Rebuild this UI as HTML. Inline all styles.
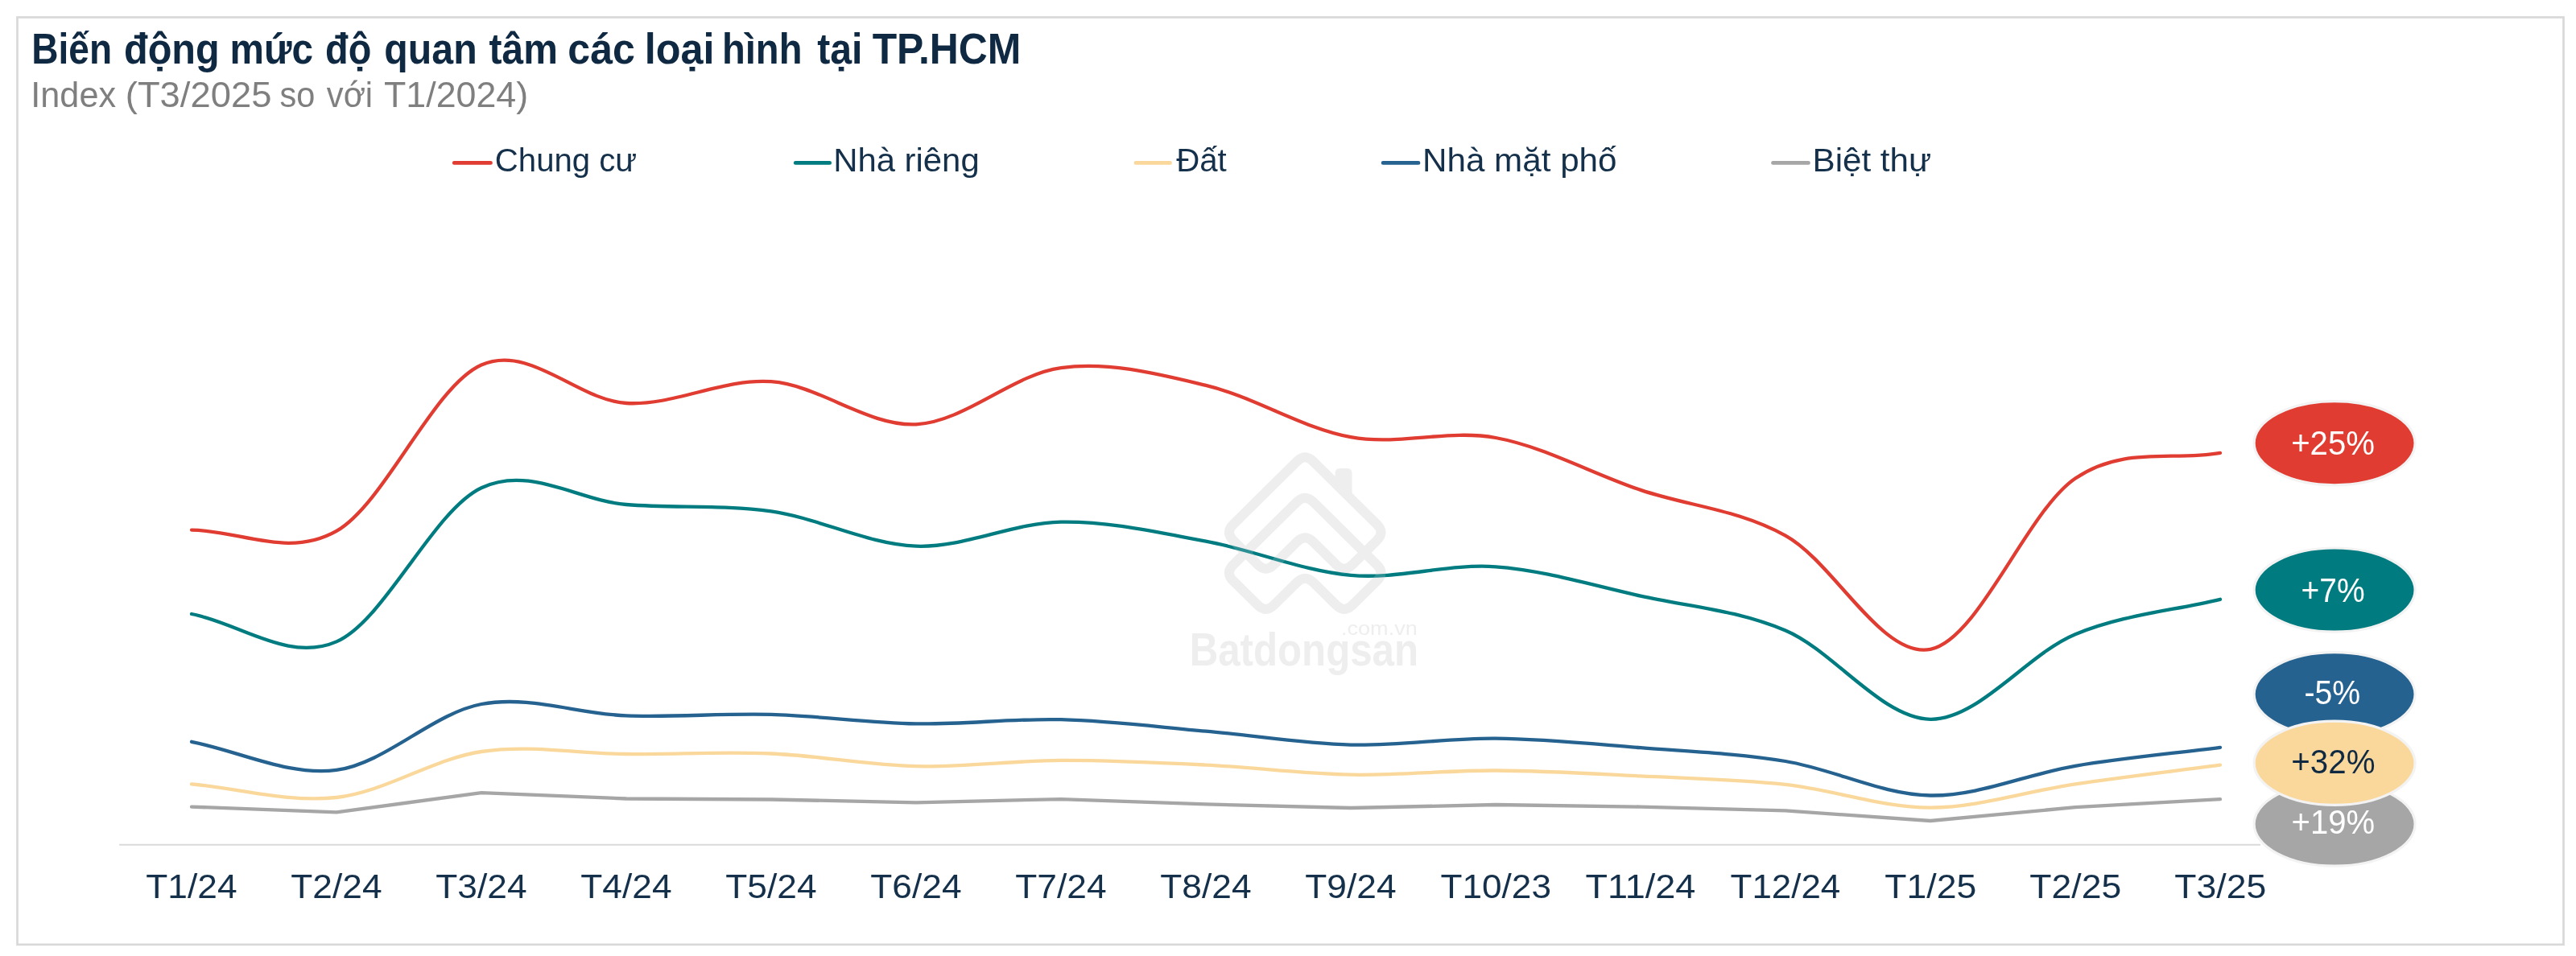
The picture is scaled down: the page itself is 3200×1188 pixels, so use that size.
<!DOCTYPE html>
<html lang="vi"><head><meta charset="utf-8">
<title>Biến động mức độ quan tâm các loại hình tại TP.HCM</title>
<style>
html,body{margin:0;padding:0;background:#fff;}
body{width:3200px;height:1188px;overflow:hidden;}
svg{display:block;font-family:"Liberation Sans",Arial,Helvetica,sans-serif;will-change:transform;}
text{white-space:pre;}
</style></head><body>
<svg width="3200" height="1188" viewBox="0 0 3200 1188" role="img" aria-label="Biến động mức độ quan tâm các loại hình tại TP.HCM">
<rect x="0" y="0" width="3200" height="1188" fill="#ffffff"/>
<rect x="21.5" y="21.5" width="3163" height="1152.3" fill="none" stroke="#d9d9d9" stroke-width="2.7"/>
<g id="title">
<text x="39.22" y="78.50" font-size="53.80" font-weight="700" fill="#0f2942" textLength="99.84" lengthAdjust="spacingAndGlyphs">Biến</text>
<text x="154.01" y="78.50" font-size="53.80" font-weight="700" fill="#0f2942" textLength="118.74" lengthAdjust="spacingAndGlyphs">động</text>
<text x="285.55" y="78.50" font-size="53.80" font-weight="700" fill="#0f2942" textLength="103.54" lengthAdjust="spacingAndGlyphs">mức</text>
<text x="404.08" y="78.50" font-size="53.80" font-weight="700" fill="#0f2942" textLength="57.25" lengthAdjust="spacingAndGlyphs">độ</text>
<text x="477.32" y="78.50" font-size="53.80" font-weight="700" fill="#0f2942" textLength="115.38" lengthAdjust="spacingAndGlyphs">quan</text>
<text x="607.61" y="78.50" font-size="53.80" font-weight="700" fill="#0f2942" textLength="85.36" lengthAdjust="spacingAndGlyphs">tâm</text>
<text x="705.34" y="78.50" font-size="53.80" font-weight="700" fill="#0f2942" textLength="83.63" lengthAdjust="spacingAndGlyphs">các</text>
<text x="800.78" y="78.50" font-size="53.80" font-weight="700" fill="#0f2942" textLength="86.78" lengthAdjust="spacingAndGlyphs">loại</text>
<text x="897.01" y="78.50" font-size="53.80" font-weight="700" fill="#0f2942" textLength="99.41" lengthAdjust="spacingAndGlyphs">hình</text>
<text x="1015.21" y="78.50" font-size="53.80" font-weight="700" fill="#0f2942" textLength="56.20" lengthAdjust="spacingAndGlyphs">tại</text>
<text x="1083.66" y="78.50" font-size="53.80" font-weight="700" fill="#0f2942" textLength="184.77" lengthAdjust="spacingAndGlyphs">TP.HCM</text>
</g>
<g id="subtitle">
<text x="38.31" y="132.50" font-size="44.90" fill="#7f7f7f" textLength="105.75" lengthAdjust="spacingAndGlyphs">Index</text>
<text x="155.79" y="132.50" font-size="44.90" fill="#7f7f7f" textLength="181.62" lengthAdjust="spacingAndGlyphs">(T3/2025</text>
<text x="347.55" y="132.50" font-size="44.90" fill="#7f7f7f" textLength="43.80" lengthAdjust="spacingAndGlyphs">so</text>
<text x="405.86" y="132.50" font-size="44.90" fill="#7f7f7f" textLength="57.24" lengthAdjust="spacingAndGlyphs">với</text>
<text x="477.00" y="132.50" font-size="44.90" fill="#7f7f7f" textLength="179.08" lengthAdjust="spacingAndGlyphs">T1/2024)</text>
</g>
<g id="legend">
<line x1="564.2" y1="202.4" x2="609.5" y2="202.4" stroke="#e03c31" stroke-width="4.7" stroke-linecap="round"/>
<text x="614.86" y="212.60" font-size="40.00" fill="#14304a" textLength="176.37" lengthAdjust="spacingAndGlyphs">Chung cư</text>
<line x1="988.2" y1="202.4" x2="1030.7" y2="202.4" stroke="#007c80" stroke-width="4.7" stroke-linecap="round"/>
<text x="1035.17" y="212.60" font-size="40.00" fill="#14304a" textLength="181.53" lengthAdjust="spacingAndGlyphs">Nhà riêng</text>
<line x1="1411.0" y1="202.4" x2="1453.5" y2="202.4" stroke="#fad89b" stroke-width="4.7" stroke-linecap="round"/>
<text x="1461.23" y="212.60" font-size="40.00" fill="#14304a" textLength="62.57" lengthAdjust="spacingAndGlyphs">Đất</text>
<line x1="1718.1" y1="202.4" x2="1762.0" y2="202.4" stroke="#25628f" stroke-width="4.7" stroke-linecap="round"/>
<text x="1767.04" y="212.60" font-size="40.00" fill="#14304a" textLength="241.50" lengthAdjust="spacingAndGlyphs">Nhà mặt phố</text>
<line x1="2202.5" y1="202.4" x2="2246.5" y2="202.4" stroke="#a6a6a6" stroke-width="4.7" stroke-linecap="round"/>
<text x="2251.55" y="212.60" font-size="40.00" fill="#14304a" textLength="147.55" lengthAdjust="spacingAndGlyphs">Biệt thự</text>
</g>
<g id="watermark">
<path d="M1611.25 573.25 Q1621.20 563.40 1631.15 573.25 L1710.53 651.75 Q1720.48 661.60 1710.53 671.45 L1679.88 701.75 Q1669.93 711.60 1659.98 701.75 L1631.15 673.25 Q1621.20 663.40 1611.25 673.25 L1582.42 701.75 Q1572.47 711.60 1562.52 701.75 L1531.87 671.45 Q1521.92 661.60 1531.87 651.75 Z" fill="none" stroke="#eeeeee" stroke-width="12" stroke-linejoin="round"/>
<path d="M1611.25 623.55 Q1621.20 613.70 1631.15 623.55 L1710.53 702.05 Q1720.48 711.90 1710.53 721.75 L1679.88 752.05 Q1669.93 761.90 1659.98 752.05 L1631.15 723.55 Q1621.20 713.70 1611.25 723.55 L1582.42 752.05 Q1572.47 761.90 1562.52 752.05 L1531.87 721.75 Q1521.92 711.90 1531.87 702.05 Z" fill="none" stroke="#eeeeee" stroke-width="12" stroke-linejoin="round"/>
<path d="M1658.5 600 L1658.5 588 Q1658.5 582 1664.5 582 L1673.5 582 Q1679.5 582 1679.5 588 L1679.5 621 Z" fill="#eeeeee"/>
<text x="1477.71" y="827.00" font-size="58.00" font-weight="700" fill="#eeeeee" textLength="284.34" lengthAdjust="spacingAndGlyphs">Batdongsan</text>
<text x="1666.03" y="789.00" font-size="24.50" fill="#eeeeee" textLength="94.73" lengthAdjust="spacingAndGlyphs">.com.vn</text>
</g>
<line x1="148.2" y1="1049.8" x2="2808" y2="1049.8" stroke="#dadada" stroke-width="2"/>
<g id="lines" fill="none" stroke-width="4.3" stroke-linecap="round" stroke-linejoin="round">
<path d="M238.00 1002.60 L418.00 1009.30 L598.00 985.20 L778.00 992.50 L958.00 993.50 L1138.00 997.30 L1318.00 993.10 L1498.00 999.40 L1678.00 1004.00 L1858.00 1000.00 L2038.00 1002.60 L2218.00 1007.40 L2398.00 1020.00 L2578.00 1003.20 L2758.00 993.10" stroke="#a6a6a6"/>
<path d="M238.00 974.30 C298.00 979.87 358.00 997.72 418.00 991.00 C478.00 984.28 538.00 943.00 598.00 934.00 C658.00 925.00 718.00 936.58 778.00 937.00 C838.00 937.42 898.00 933.97 958.00 936.50 C1018.00 939.03 1078.00 950.80 1138.00 952.20 C1198.00 953.60 1258.00 945.17 1318.00 944.90 C1378.00 944.63 1438.00 947.63 1498.00 950.60 C1558.00 953.57 1618.00 961.55 1678.00 962.70 C1738.00 963.85 1798.00 957.22 1858.00 957.50 C1918.00 957.78 1978.00 961.50 2038.00 964.40 C2098.00 967.30 2158.00 968.37 2218.00 974.90 C2278.00 981.43 2338.00 1003.70 2398.00 1003.60 C2458.00 1003.50 2518.00 983.13 2578.00 974.30 C2638.00 965.47 2698.00 958.50 2758.00 950.60" stroke="#fad89b"/>
<path d="M238.00 921.80 C298.00 933.50 358.00 964.70 418.00 956.90 C478.00 949.10 538.00 886.25 598.00 875.00 C658.00 863.75 718.00 887.25 778.00 889.40 C838.00 891.55 898.00 886.23 958.00 887.90 C1018.00 889.57 1078.00 898.35 1138.00 899.40 C1198.00 900.45 1258.00 892.67 1318.00 894.20 C1378.00 895.73 1438.00 903.37 1498.00 908.60 C1558.00 913.83 1618.00 924.08 1678.00 925.60 C1738.00 927.12 1798.00 917.10 1858.00 917.70 C1918.00 918.30 1978.00 924.48 2038.00 929.20 C2098.00 933.92 2158.00 936.12 2218.00 946.00 C2278.00 955.88 2338.00 987.53 2398.00 988.50 C2458.00 989.47 2518.00 961.75 2578.00 951.80 C2638.00 941.85 2698.00 936.47 2758.00 928.80" stroke="#25628f"/>
<path d="M238.00 763.00 C298.00 774.47 358.00 823.53 418.00 797.40 C478.00 771.27 538.00 634.60 598.00 606.20 C658.00 577.80 718.00 622.13 778.00 627.00 C838.00 631.87 898.00 626.78 958.00 635.40 C1018.00 644.02 1078.00 676.50 1138.00 678.70 C1198.00 680.90 1258.00 649.62 1318.00 648.60 C1378.00 647.58 1438.00 661.55 1498.00 672.60 C1558.00 683.65 1618.00 709.62 1678.00 714.90 C1738.00 720.18 1798.00 700.02 1858.00 704.30 C1918.00 708.58 1978.00 727.40 2038.00 740.60 C2098.00 753.80 2158.00 757.97 2218.00 783.50 C2278.00 809.03 2338.00 893.02 2398.00 893.80 C2458.00 894.58 2518.00 813.03 2578.00 788.20 C2638.00 763.37 2698.00 759.27 2758.00 744.80" stroke="#007c80"/>
<path d="M238.00 658.60 C298.00 659.03 358.00 694.08 418.00 659.90 C478.00 625.72 538.00 479.98 598.00 453.50 C658.00 427.02 718.00 497.55 778.00 501.00 C838.00 504.45 898.00 469.82 958.00 474.20 C1018.00 478.58 1078.00 530.15 1138.00 527.30 C1198.00 524.45 1258.00 465.17 1318.00 457.10 C1378.00 449.03 1438.00 464.55 1498.00 478.90 C1558.00 493.25 1618.00 532.35 1678.00 543.20 C1738.00 554.05 1798.00 533.05 1858.00 544.00 C1918.00 554.95 1978.00 588.63 2038.00 608.90 C2098.00 629.17 2158.00 632.60 2218.00 665.60 C2278.00 698.60 2338.00 818.75 2398.00 806.90 C2458.00 795.05 2518.00 635.18 2578.00 594.50 C2638.00 553.82 2698.00 573.37 2758.00 562.80" stroke="#e03c31"/>
</g>
<g id="watermark-overlay" opacity="0.18">
<path d="M1611.25 573.25 Q1621.20 563.40 1631.15 573.25 L1710.53 651.75 Q1720.48 661.60 1710.53 671.45 L1679.88 701.75 Q1669.93 711.60 1659.98 701.75 L1631.15 673.25 Q1621.20 663.40 1611.25 673.25 L1582.42 701.75 Q1572.47 711.60 1562.52 701.75 L1531.87 671.45 Q1521.92 661.60 1531.87 651.75 Z" fill="none" stroke="#eeeeee" stroke-width="12" stroke-linejoin="round"/>
<path d="M1611.25 623.55 Q1621.20 613.70 1631.15 623.55 L1710.53 702.05 Q1720.48 711.90 1710.53 721.75 L1679.88 752.05 Q1669.93 761.90 1659.98 752.05 L1631.15 723.55 Q1621.20 713.70 1611.25 723.55 L1582.42 752.05 Q1572.47 761.90 1562.52 752.05 L1531.87 721.75 Q1521.92 711.90 1531.87 702.05 Z" fill="none" stroke="#eeeeee" stroke-width="12" stroke-linejoin="round"/>
</g>
<g id="xlabels">
<text x="181.30" y="1116.10" font-size="41.70" fill="#14304a" textLength="113.29" lengthAdjust="spacingAndGlyphs">T1/24</text>
<text x="361.30" y="1116.10" font-size="41.70" fill="#14304a" textLength="113.29" lengthAdjust="spacingAndGlyphs">T2/24</text>
<text x="541.30" y="1116.10" font-size="41.70" fill="#14304a" textLength="113.29" lengthAdjust="spacingAndGlyphs">T3/24</text>
<text x="721.30" y="1116.10" font-size="41.70" fill="#14304a" textLength="113.29" lengthAdjust="spacingAndGlyphs">T4/24</text>
<text x="901.30" y="1116.10" font-size="41.70" fill="#14304a" textLength="113.29" lengthAdjust="spacingAndGlyphs">T5/24</text>
<text x="1081.30" y="1116.10" font-size="41.70" fill="#14304a" textLength="113.29" lengthAdjust="spacingAndGlyphs">T6/24</text>
<text x="1261.30" y="1116.10" font-size="41.70" fill="#14304a" textLength="113.29" lengthAdjust="spacingAndGlyphs">T7/24</text>
<text x="1441.30" y="1116.10" font-size="41.70" fill="#14304a" textLength="113.29" lengthAdjust="spacingAndGlyphs">T8/24</text>
<text x="1621.30" y="1116.10" font-size="41.70" fill="#14304a" textLength="113.29" lengthAdjust="spacingAndGlyphs">T9/24</text>
<text x="1789.56" y="1116.10" font-size="41.70" fill="#14304a" textLength="137.43" lengthAdjust="spacingAndGlyphs">T10/23</text>
<text x="1969.56" y="1116.10" font-size="41.70" fill="#14304a" textLength="136.77" lengthAdjust="spacingAndGlyphs">T11/24</text>
<text x="2149.56" y="1116.10" font-size="41.70" fill="#14304a" textLength="136.77" lengthAdjust="spacingAndGlyphs">T12/24</text>
<text x="2341.30" y="1116.10" font-size="41.70" fill="#14304a" textLength="113.87" lengthAdjust="spacingAndGlyphs">T1/25</text>
<text x="2521.30" y="1116.10" font-size="41.70" fill="#14304a" textLength="113.87" lengthAdjust="spacingAndGlyphs">T2/25</text>
<text x="2701.30" y="1116.10" font-size="41.70" fill="#14304a" textLength="113.87" lengthAdjust="spacingAndGlyphs">T3/25</text>
</g>
<g id="badges">
<ellipse cx="2900.1" cy="550.7" rx="100" ry="52.1" fill="#e03c31" stroke="#f3f3f3" stroke-width="3.2"/>
<text x="2846.14" y="564.90" font-size="41.70" fill="#ffffff" textLength="103.89" lengthAdjust="spacingAndGlyphs">+25%</text>
<ellipse cx="2900.1" cy="733.1" rx="100" ry="52.1" fill="#007c80" stroke="#f3f3f3" stroke-width="3.2"/>
<text x="2858.59" y="747.60" font-size="41.70" fill="#ffffff" textLength="79.20" lengthAdjust="spacingAndGlyphs">+7%</text>
<ellipse cx="2900.1" cy="1024.0" rx="100" ry="52.1" fill="#a6a6a6" stroke="#f3f3f3" stroke-width="3.2"/>
<text x="2846.55" y="1036.40" font-size="41.70" fill="#ffffff" textLength="103.48" lengthAdjust="spacingAndGlyphs">+19%</text>
<ellipse cx="2900.1" cy="862.8" rx="100" ry="52.1" fill="#25628f" stroke="#f3f3f3" stroke-width="3.2"/>
<text x="2862.46" y="875.20" font-size="41.70" fill="#ffffff" textLength="69.74" lengthAdjust="spacingAndGlyphs">-5%</text>
<ellipse cx="2900.1" cy="948.3" rx="100" ry="52.1" fill="#fad89b" stroke="#f3f3f3" stroke-width="3.2"/>
<text x="2846.33" y="961.00" font-size="41.70" fill="#0f2942" textLength="104.10" lengthAdjust="spacingAndGlyphs">+32%</text>
</g>
</svg>
</body></html>
